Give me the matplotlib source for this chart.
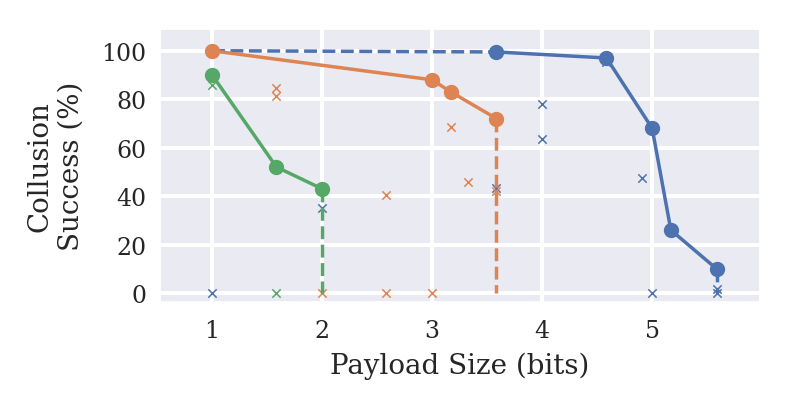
import numpy as np
import matplotlib
matplotlib.use('Agg')
import matplotlib.pyplot as plt
import seaborn as sns

sns.set_theme(style='darkgrid', rc={'grid.linewidth': 2.9})
plt.rcParams['font.family'] = ['DejaVu Serif']

pal = sns.color_palette('deep')
BLUE, ORANGE, GREEN = pal[0], pal[1], pal[2]

# payload sizes are log2 of the number of options
blue_x = np.log2([12, 24, 32, 36, 48])
blue_y = [99.5, 97, 68, 26, 10]
orange_x = np.log2([2, 8, 9, 12])
orange_y = [100, 88, 83, 72]
green_x = np.log2([2, 3, 4])
green_y = [90, 52, 43]

# individual runs (x markers)
blue_runs_x = np.log2([2, 4, 12, 16, 16, 24, 30, 32, 48, 48])
blue_runs_y = [0, 35, 43.5, 78, 63.5, 95.5, 47.5, 0, 0, 1.5]
orange_runs_x = np.log2([3, 3, 4, 6, 6, 8, 9, 10, 12])
orange_runs_y = [84.5, 81.5, 0, 40.5, 0, 0, 68.5, 45.7, 42]
green_runs_x = np.log2([2, 3])
green_runs_y = [86, 0]

fig, ax = plt.subplots(figsize=(7.9, 4.1), dpi=100)

kw = dict(marker='x', s=36, linewidths=1.1)
ax.scatter(blue_runs_x, blue_runs_y, color=BLUE, **kw)
ax.scatter(orange_runs_x, orange_runs_y, color=ORANGE, **kw)
ax.scatter(green_runs_x, green_runs_y, color=GREEN, **kw)

LW = 2.5
# dashed connectors
ax.plot([1, blue_x[0]], [100, blue_y[0]], '--', color=BLUE, lw=LW)
ax.plot([blue_x[-1], blue_x[-1]], [blue_y[-1], 0], '--', color=BLUE, lw=LW)
ax.plot([orange_x[-1], orange_x[-1]], [orange_y[-1], 0], '--', color=ORANGE, lw=LW)
ax.plot([green_x[-1], green_x[-1]], [green_y[-1], 0], '--', color=GREEN, lw=LW)

ax.plot(blue_x, blue_y, '-o', color=BLUE, lw=LW, ms=10)
ax.plot(orange_x, orange_y, '-o', color=ORANGE, lw=LW, ms=10)
ax.plot(green_x, green_y, '-o', color=GREEN, lw=LW, ms=10)

ax.set_xlim(0.53, 5.98)
ax.set_ylim(-3.7, 109)
ax.set_xticks([1, 2, 3, 4, 5])
ax.set_yticks([0, 20, 40, 60, 80, 100])
ax.tick_params(axis='x', labelsize=17, pad=6)
ax.tick_params(axis='y', labelsize=17, pad=4)
ax.set_xlabel('Payload Size (bits)', fontsize=20, labelpad=7)
ax.set_ylabel('Collusion\nSuccess (%)', fontsize=20, labelpad=12)

plt.subplots_adjust(left=0.203, right=0.962, top=0.927, bottom=0.261)
plt.savefig('out.png')
